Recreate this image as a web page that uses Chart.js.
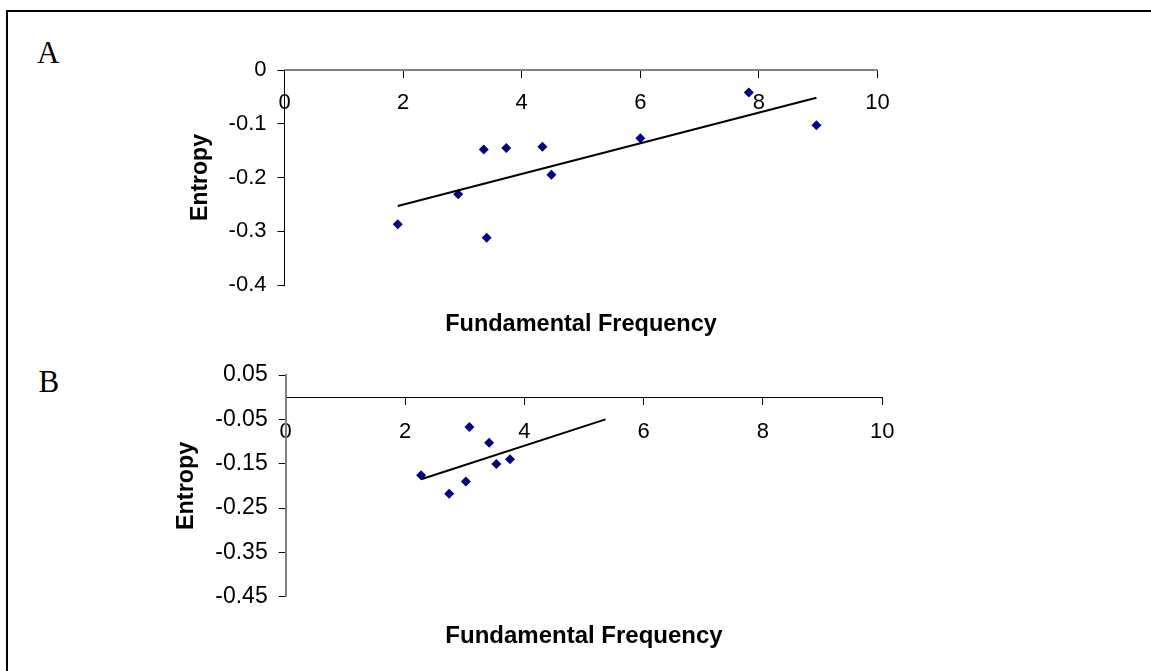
<!DOCTYPE html>
<html>
<head>
<meta charset="utf-8">
<script src="https://cdn.jsdelivr.net/npm/chart.js@4.4.1/dist/chart.umd.min.js"></script>
<style>
  html, body { margin: 0; padding: 0; background: #fff; overflow: hidden; }
  #page { position: relative; width: 1151px; height: 671px; overflow: hidden; background: #fff; }
  #frame { position: absolute; left: 6px; top: 10px; width: 1300px; height: 800px;
           border-left: 2px solid #000; border-top: 2px solid #000; }
  canvas { position: absolute; left: 0; top: 0; }
  .panel-letter { position: absolute; font-family: "Liberation Serif", "Times New Roman", serif;
                  font-size: 31px; line-height: 31px; color: #000; }
</style>
</head>
<body>
<div id="page">
  <div id="frame"></div>
  <div class="panel-letter" style="left:37px; top:36.7px;">A</div>
  <div class="panel-letter" style="left:38.5px; top:365.7px;">B</div>
  <canvas id="chartA" width="1151" height="671"></canvas>
  <canvas id="chartB" width="1151" height="671"></canvas>
</div>
<script>
// Panel A: entropy against fundamental frequency
const freqA    = [1.91, 2.93, 3.36, 3.41, 3.74, 4.35, 4.50, 6.00, 7.83, 8.97];
const entropyA = [-0.287, -0.231, -0.148, -0.312, -0.145, -0.143, -0.195, -0.127, -0.042, -0.103];
const trendFreqA    = [1.91, 8.97];
const trendEntropyA = [-0.253, -0.0515];

// Panel B
const freqB    = [2.27, 2.74, 3.02, 3.08, 3.41, 3.53, 3.76];
const entropyB = [-0.176, -0.218, -0.190, -0.067, -0.103, -0.151, -0.140];
const trendFreqB    = [2.27, 5.36];
const trendEntropyB = [-0.185, -0.050];

// Axis ticks
const xTicks      = [0, 2, 4, 6, 8, 10];
const xTickLabels = ['0', '2', '4', '6', '8', '10'];
const yTicksA      = [0, -0.1, -0.2, -0.3, -0.4];
const yTickLabelsA = ['0', '-0.1', '-0.2', '-0.3', '-0.4'];
const yTicksB      = [0.05, -0.05, -0.15, -0.25, -0.35, -0.45];
const yTickLabelsB = ['0.05', '-0.05', '-0.15', '-0.25', '-0.35', '-0.45'];

const xTitle = 'Fundamental Frequency';
const yTitle = 'Entropy';

Chart.defaults.font.family = '"Liberation Sans", Arial, Helvetica, sans-serif';
Chart.defaults.color = '#000';

function toPoints(xs, ys) {
  return xs.map((x, i) => ({ x: x, y: ys[i] }));
}

function ascendingTicks(values) {
  return values.slice().sort((a, b) => a - b).map(v => ({ value: v }));
}

function makePanel(id, p) {
  return new Chart(document.getElementById(id), {
    type: 'scatter',
    data: {
      datasets: [
        {
          label: 'Trend',
          data: toPoints(p.trendX, p.trendY),
          showLine: true,
          borderColor: '#000',
          borderWidth: 2,
          pointRadius: 0,
          pointHoverRadius: 0,
          fill: false
        },
        {
          label: yTitle,
          data: toPoints(p.x, p.y),
          pointStyle: 'rectRot',
          pointRadius: 5,
          pointHoverRadius: 5,
          backgroundColor: '#000080',
          borderColor: '#000080',
          borderWidth: 0
        }
      ]
    },
    options: {
      responsive: false,
      animation: false,
      devicePixelRatio: 1,
      events: [],
      layout: { padding: p.padding },
      plugins: { legend: { display: false }, tooltip: { enabled: false } },
      scales: {
        x: {
          type: 'linear',
          position: { y: 0 },
          min: 0,
          max: 10,
          afterBuildTicks: s => { s.ticks = ascendingTicks(xTicks); },
          afterFit: s => { s.height = p.xBoxHeight; },
          ticks: {
            autoSkip: false,
            maxRotation: 0,
            padding: p.xTickPad,
            font: { size: p.xTickSize },
            color: '#000',
            callback: v => xTickLabels[xTicks.indexOf(v)]
          },
          grid: { display: true, drawOnChartArea: false, drawTicks: true,
                  tickLength: 7, tickColor: '#000', tickWidth: 1 },
          border: { display: true, color: p.xBorderColor, width: p.xBorderWidth },
          title: { display: true, text: xTitle, color: '#000', padding: 0,
                   font: { size: p.xTitleSize, weight: 'bold' } }
        },
        y: {
          type: 'linear',
          position: 'left',
          min: p.yMin,
          max: p.yMax,
          afterBuildTicks: s => { s.ticks = ascendingTicks(p.yTicks); },
          afterFit: s => { s.width = p.yBoxWidth; },
          ticks: {
            autoSkip: false,
            padding: 11,
            font: { size: p.yTickSize },
            color: '#000',
            callback: v => p.yLabels[p.yTicks.indexOf(v)]
          },
          grid: { display: true, drawOnChartArea: false, drawTicks: true,
                  tickLength: 7, tickColor: '#000', tickWidth: 1 },
          border: { display: true, color: p.yBorderColor, width: p.yBorderWidth },
          title: { display: true, text: yTitle, color: '#000', padding: 0,
                   font: { size: p.yTitleSize, weight: 'bold' } }
        }
      }
    }
  });
}

makePanel('chartA', {
  x: freqA, y: entropyA, trendX: trendFreqA, trendY: trendEntropyA,
  yTicks: yTicksA, yLabels: yTickLabelsA, yMin: -0.4, yMax: 0,
  padding: { left: 187.2, top: 70, right: 273.5, bottom: 386 },
  yBoxWidth: 97.3, xBoxHeight: 268.6,
  xTickPad: 13, xTickSize: 22, yTickSize: 22,
  xTitleSize: 23.5, yTitleSize: 23,
  xBorderColor: '#808080', xBorderWidth: 2,
  yBorderColor: '#000', yBorderWidth: 1
});

makePanel('chartB', {
  x: freqB, y: entropyB, trendX: trendFreqB, trendY: trendEntropyB,
  yTicks: yTicksB, yLabels: yTickLabelsB, yMin: -0.45, yMax: 0.05,
  padding: { left: 173, top: 375, right: 268.7, bottom: 74.3 },
  yBoxWidth: 112.7, xBoxHeight: 253.5,
  xTickPad: 15, xTickSize: 22, yTickSize: 23,
  xTitleSize: 24, yTitleSize: 23.4,
  xBorderColor: '#000', xBorderWidth: 1,
  yBorderColor: '#808080', yBorderWidth: 2
});
</script>
</body>
</html>
